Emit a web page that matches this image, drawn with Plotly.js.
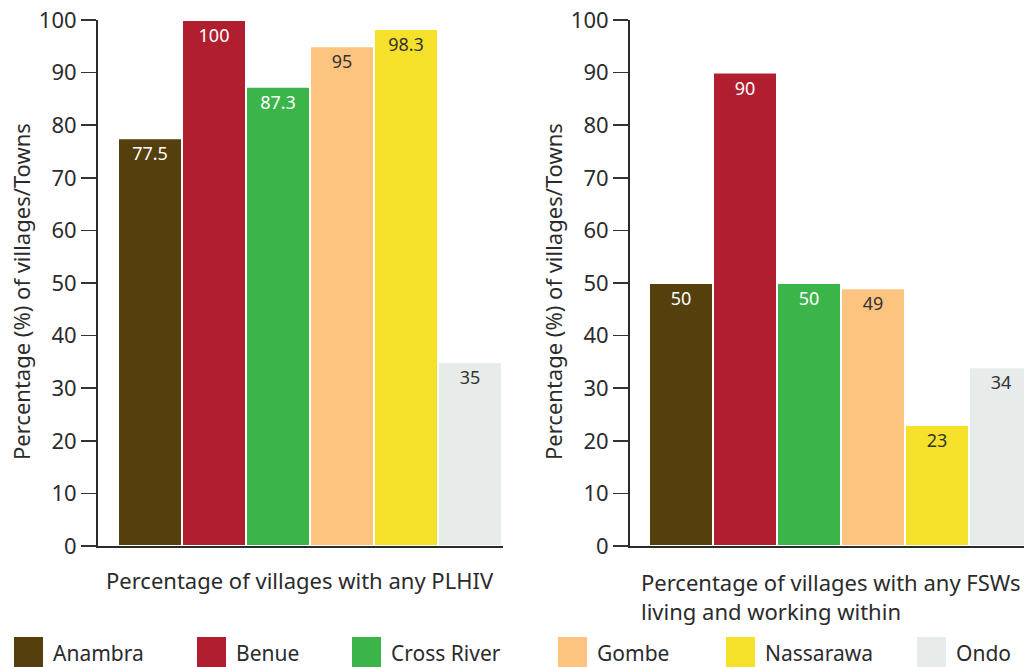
<!DOCTYPE html>
<html>
<head>
<meta charset="utf-8">
<script src="https://cdn.plot.ly/plotly-3.0.1.min.js"></script>
<style>html,body{margin:0;padding:0;background:#fff;}#chart{width:1024px;height:667px;}</style>
</head>
<body>
<div id="chart"></div>
<script>
const states = ['Anambra', 'Benue', 'Cross River', 'Gombe', 'Nassarawa', 'Ondo'];
const colors = ['#553f0c', '#b01e2f', '#3bb54a', '#fcc47f', '#f6e12a', '#e7ebea'];
const labelColors = ['#ffffff', '#ffffff', '#ffffff', '#333333', '#333333', '#333333'];
const plhivValues = [77.5, 100, 87.3, 95, 98.3, 35];
const fswValues = [50, 90, 50, 49, 23, 34];
const groupLabels = ['Percentage of villages with any PLHIV', 'Percentage of villages with any FSWs<br>living and working within'];
const yTitle = 'Percentage (%) of villages/Towns';
const yTicks = [0, 10, 20, 30, 40, 50, 60, 70, 80, 90, 100];

const FONT = 'Noto Sans, Open Sans, sans-serif';
const traces = [];
states.forEach((s, i) => {
  [[plhivValues, 'x', 'y', 'g1'], [fswValues, 'x2', 'y2', 'g2']].forEach(([vals, xa, ya, cat]) => {
    traces.push({
      type: 'bar', name: s, x: [cat], y: [vals[i]], xaxis: xa, yaxis: ya,
      marker: {color: colors[i], line: {color: '#ffffff', width: 2}},
      text: [String(vals[i])], textposition: 'inside', insidetextanchor: 'end',
      textfont: {family: FONT, size: 18, color: labelColors[i]},
      constraintext: 'none', cliponaxis: true, showlegend: false, hoverinfo: 'skip'
    });
  });
});

const yax = {
  range: [0, 100], tickvals: yTicks, ticks: 'outside', ticklen: 15, tickwidth: 1.5, tickcolor: '#333',
  showline: true, linecolor: '#2b2b2b', linewidth: 2, showgrid: false, zeroline: false,
  tickfont: {family: FONT, size: 22, color: '#2b2b2b'}, fixedrange: true
};
const xax = {
  type: 'category', showticklabels: false, ticks: '', showline: true, linecolor: '#2b2b2b', linewidth: 2,
  showgrid: false, zeroline: false, fixedrange: true
};

const toPaperY = py => (546 - py) / 526;
const annotations = [
  {xref: 'paper', yref: 'paper', x: 21/1024, y: toPaperY(292), text: yTitle, textangle: -90, showarrow: false,
   xanchor: 'center', yanchor: 'middle', font: {family: FONT, size: 22, color: '#2b2b2b'}},
  {xref: 'paper', yref: 'paper', x: 553/1024, y: toPaperY(292), text: yTitle, textangle: -90, showarrow: false,
   xanchor: 'center', yanchor: 'middle', font: {family: FONT, size: 22, color: '#2b2b2b'}},
  {xref: 'paper', yref: 'paper', x: 300/1024, y: toPaperY(580), text: groupLabels[0], showarrow: false,
   xanchor: 'center', yanchor: 'middle', font: {family: FONT, size: 22, color: '#2b2b2b'}},
  {xref: 'paper', yref: 'paper', x: 639/1024, y: toPaperY(580), text: groupLabels[1], showarrow: false,
   xanchor: 'left', yanchor: 'top', align: 'left', yshift: 15, font: {family: FONT, size: 22, color: '#2b2b2b'}}
];

// custom legend
const legendSquareX = [14, 197, 352, 558, 726, 917];
const shapes = [];
states.forEach((s, i) => {
  const x0 = legendSquareX[i];
  shapes.push({type: 'rect', xref: 'paper', yref: 'paper', x0: x0/1024, x1: (x0+29)/1024,
    y0: toPaperY(667), y1: toPaperY(637), fillcolor: colors[i], line: {width: 0}});
  annotations.push({xref: 'paper', yref: 'paper', x: (x0+37)/1024, y: toPaperY(653), text: s, showarrow: false,
    xanchor: 'left', yanchor: 'middle', font: {family: FONT, size: 21, color: '#2b2b2b'}});
});

const layout = {
  width: 1024, height: 667,
  margin: {l: 0, r: 0, t: 20, b: 121},
  paper_bgcolor: '#ffffff', plot_bgcolor: '#ffffff',
  barmode: 'group', bargap: 0, bargroupgap: 0, showlegend: false,
  xaxis: Object.assign({}, xax, {domain: [98/1024, 503/1024], range: [-0.5 - 20/384, 0.5 + 1/384], anchor: 'y'}),
  xaxis2: Object.assign({}, xax, {domain: [630/1024, 1], range: [-0.5 - 19/384, -0.5 - 19/384 + 394/384], anchor: 'y2'}),
  yaxis: Object.assign({}, yax, {anchor: 'x'}),
  yaxis2: Object.assign({}, yax, {anchor: 'x2'}),
  annotations: annotations, shapes: shapes,
  font: {family: FONT, color: '#2b2b2b'}
};

Plotly.newPlot('chart', traces, layout, {displayModeBar: false, staticPlot: true});
</script>
</body>
</html>
